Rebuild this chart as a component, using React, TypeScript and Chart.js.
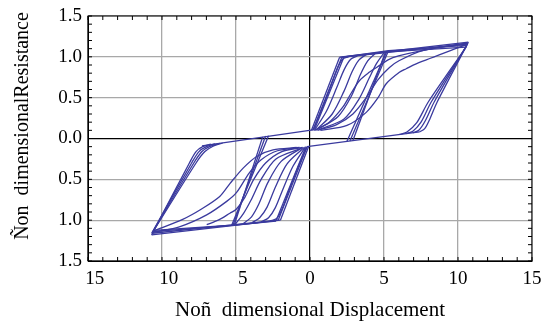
import React, { useEffect, useRef } from "react";
import { Chart, registerables } from "chart.js";

Chart.register(...registerables);

type Pt = [number, number];

// Axis ticks
const xTickValues = [-15, -10, -5, 0, 5, 10, 15];
const yTickValues = [-1.5, -1.0, -0.5, 0, 0.5, 1.0, 1.5];

const xTitle = "Noñ  dimensional Displacement";
const yTitle = "Ñon  dimensionalResistance";

// ---- positive side ----
const posElasticA: Pt[] = [[0.1, 0.1], [2.0, 0.995]];
const posElasticB: Pt[] = [[0.2, 0.1], [2.15, 0.995]];
const posElasticC: Pt[] = [[0.3, 0.11], [2.3, 1.0]];

const posYieldA: Pt[] = [[2.0, 0.995], [10.7, 1.18]];
const posYieldB: Pt[] = [[2.15, 0.995], [10.65, 1.16]];
const posYieldC: Pt[] = [[2.3, 1.0], [5.3, 1.075], [10.6, 1.14]];
const posYieldD: Pt[] = [[3.5, 1.02], [5.2, 1.06], [10.55, 1.12]];

const posUnload5A: Pt[] = [[5.3, 1.075], [2.7, -0.03]];
const posUnload5B: Pt[] = [[5.2, 1.07], [2.5, -0.035]];
const posUnload5C: Pt[] = [[5.1, 1.06], [2.9, -0.025]];

const posUnload10A: Pt[] = [[10.7, 1.18], [8.6, 0.45], [8.1, 0.24], [7.75, 0.12], [7.4, 0.08]];
const posUnload10B: Pt[] = [[10.65, 1.16], [8.4, 0.45], [7.8, 0.22], [7.35, 0.1], [6.95, 0.07]];
const posUnload10C: Pt[] = [[10.6, 1.14], [8.2, 0.45], [7.5, 0.2], [6.95, 0.09], [6.5, 0.06]];
const posUnload10D: Pt[] = [[10.55, 1.12], [8.0, 0.45], [7.2, 0.19], [6.55, 0.08], [6.05, 0.05]];

const posSlip: Pt[] = [[7.4, 0.08], [-0.2, -0.1]];

const posReload1: Pt[] = [[0.2, 0.1], [0.8, 0.36], [1.4, 0.64], [1.85, 0.86], [2.2, 0.97], [2.6, 1.0]];
const posReload2: Pt[] = [[0.3, 0.1], [1.1, 0.33], [1.8, 0.62], [2.3, 0.84], [2.75, 0.97], [3.2, 1.01]];
const posReload3: Pt[] = [[0.4, 0.1], [1.5, 0.3], [2.3, 0.58], [2.85, 0.82], [3.3, 0.96], [3.8, 1.03]];
const posReload4: Pt[] = [[0.5, 0.11], [1.9, 0.27], [2.8, 0.52], [3.4, 0.78], [3.9, 0.95], [4.4, 1.04]];
const posReload5: Pt[] = [[0.6, 0.11], [2.3, 0.24], [3.3, 0.48], [4.0, 0.74], [4.5, 0.92], [5.0, 1.05]];
const posReload6: Pt[] = [[0.3, 0.1], [1.3, 0.2], [2.2, 0.38], [2.8, 0.56], [3.35, 0.71], [4.0, 0.81], [4.5, 0.87], [5.6, 0.99], [8.3, 1.1], [10.65, 1.17]];
const posReload7: Pt[] = [[0.5, 0.1], [1.8, 0.17], [2.9, 0.3], [3.8, 0.5], [4.6, 0.72], [5.37, 0.87], [6.04, 0.955], [7.6, 1.077], [10.6, 1.16]];
const posReload8: Pt[] = [[0.7, 0.1], [2.5, 0.16], [3.8, 0.32], [4.6, 0.5], [5.15, 0.67], [6.04, 0.81], [6.5, 0.854], [7.17, 0.915], [10.55, 1.15]];

// ---- negative side ----
const negElasticA: Pt[] = [[-0.1, -0.1], [-2.0, -1.0]];
const negElasticB: Pt[] = [[-0.2, -0.1], [-2.15, -1.0]];
const negElasticC: Pt[] = [[-0.3, -0.11], [-2.3, -1.01]];

const negYieldA: Pt[] = [[-2.0, -1.0], [-10.7, -1.18]];
const negYieldB: Pt[] = [[-2.15, -1.0], [-10.65, -1.16]];
const negYieldC: Pt[] = [[-2.3, -1.01], [-5.3, -1.065], [-10.6, -1.14]];
const negYieldD: Pt[] = [[-3.5, -1.03], [-5.2, -1.06], [-10.55, -1.125]];

const negUnload5A: Pt[] = [[-5.3, -1.065], [-2.8, 0.035]];
const negUnload5B: Pt[] = [[-5.2, -1.06], [-3.0, 0.03]];
const negUnload5C: Pt[] = [[-5.1, -1.05], [-3.2, 0.02]];

const negUnload10A: Pt[] = [[-10.7, -1.18], [-8.15, -0.3], [-7.7, -0.16], [-7.25, -0.1], [-6.7, -0.07]];
const negUnload10B: Pt[] = [[-10.7, -1.16], [-8.0, -0.3], [-7.5, -0.16], [-7.0, -0.1], [-6.4, -0.065]];
const negUnload10C: Pt[] = [[-10.65, -1.15], [-7.85, -0.3], [-7.3, -0.16], [-6.8, -0.1], [-6.1, -0.06]];
const negUnload10D: Pt[] = [[-10.6, -1.14], [-7.7, -0.3], [-7.1, -0.16], [-6.55, -0.095], [-5.9, -0.055]];

const negSlip: Pt[] = [[-7.3, -0.09], [0.2, 0.105]];

const negReload1: Pt[] = [[-0.2, -0.1], [-0.85, -0.37], [-1.45, -0.65], [-1.9, -0.87], [-2.25, -0.98], [-2.7, -1.01]];
const negReload2: Pt[] = [[-0.3, -0.1], [-1.15, -0.34], [-1.85, -0.63], [-2.35, -0.85], [-2.8, -0.97], [-3.3, -1.02]];
const negReload3: Pt[] = [[-0.4, -0.11], [-1.55, -0.31], [-2.35, -0.6], [-2.9, -0.84], [-3.4, -0.97], [-3.9, -1.03]];
const negReload4: Pt[] = [[-0.5, -0.11], [-1.95, -0.28], [-2.85, -0.54], [-3.45, -0.8], [-3.95, -0.96], [-4.5, -1.04]];
const negReload5: Pt[] = [[-0.6, -0.12], [-2.3, -0.25], [-3.3, -0.5], [-4.0, -0.76], [-4.5, -0.92], [-5.05, -1.05]];
const negReload6: Pt[] = [[-0.5, -0.11], [-1.9, -0.16], [-3.0, -0.3], [-3.8, -0.5], [-4.4, -0.72], [-5.0, -0.87], [-5.41, -0.915], [-6.2, -1.0], [-6.98, -1.055]];
const negReload7: Pt[] = [[-0.7, -0.11], [-2.2, -0.15], [-3.3, -0.26], [-4.1, -0.42], [-4.96, -0.66], [-5.63, -0.77], [-6.98, -0.935], [-8.78, -1.078], [-10.6, -1.15]];
const negReload8: Pt[] = [[-0.9, -0.11], [-2.5, -0.14], [-3.6, -0.22], [-4.5, -0.36], [-5.4, -0.55], [-6.1, -0.71], [-7.3, -0.86], [-8.6, -0.99], [-10.55, -1.13]];

const straightBranches: Pt[][] = [
  posElasticA, posElasticB, posElasticC,
  posYieldA, posYieldB, posYieldC, posYieldD,
  posUnload5A, posUnload5B, posUnload5C, posSlip,
  negElasticA, negElasticB, negElasticC,
  negYieldA, negYieldB, negYieldC, negYieldD,
  negUnload5A, negUnload5B, negUnload5C, negSlip,
];

const curvedBranches: Pt[][] = [
  posUnload10A, posUnload10B, posUnload10C, posUnload10D,
  posReload1, posReload2, posReload3, posReload4, posReload5, posReload6, posReload7, posReload8,
  negUnload10A, negUnload10B, negUnload10C, negUnload10D,
  negReload1, negReload2, negReload3, negReload4, negReload5, negReload6, negReload7, negReload8,
];

const LINE = "rgb(58,58,158)";
const FONT = "'Liberation Serif', 'Times New Roman', serif";

const framePlugin = {
  id: "frameTicks",
  afterDraw(chart: any) {
    const { ctx, chartArea: a, scales } = chart;
    ctx.save();
    ctx.strokeStyle = "#000";
    ctx.lineWidth = 1;
    ctx.strokeRect(a.left, a.top, a.right - a.left, a.bottom - a.top);
    ctx.beginPath();
    for (let i = -15; i <= 15; i++) {
      const px = scales.x.getPixelForValue(i);
      ctx.moveTo(px, a.bottom);
      ctx.lineTo(px, a.bottom - 4);
      ctx.moveTo(px, a.top);
      ctx.lineTo(px, a.top + 4);
    }
    for (let j = -15; j <= 15; j++) {
      const py = scales.y.getPixelForValue(j / 10);
      ctx.moveTo(a.left, py);
      ctx.lineTo(a.left + 4, py);
      ctx.moveTo(a.right, py);
      ctx.lineTo(a.right - 4, py);
    }
    ctx.stroke();
    ctx.restore();
  },
};

export default function App() {
  const ref = useRef<HTMLCanvasElement | null>(null);

  useEffect(() => {
    if (!ref.current) return;
    const toData = (arr: Pt[]) => arr.map(([x, y]) => ({ x, y }));
    const datasets: any[] = [
      ...straightBranches.map((b) => ({
        data: toData(b),
        showLine: true,
        borderColor: LINE,
        borderWidth: 1.3,
        pointRadius: 0,
        tension: 0,
        fill: false,
      })),
      ...curvedBranches.map((b) => ({
        data: toData(b),
        showLine: true,
        borderColor: LINE,
        borderWidth: 1.3,
        pointRadius: 0,
        tension: 0.3,
        fill: false,
      })),
    ];

    const chart = new Chart(ref.current, {
      type: "scatter",
      data: { datasets },
      plugins: [framePlugin],
      options: {
        animation: false,
        responsive: false,
        maintainAspectRatio: false,
        layout: { padding: { top: 16, right: 12, left: 0, bottom: 0 } },
        plugins: { legend: { display: false }, tooltip: { enabled: false } },
        scales: {
          x: {
            type: "linear",
            min: -15,
            max: 15,
            afterFit: (s: any) => { s.height = 63; s.paddingLeft = 0; s.paddingRight = 0; },
            afterBuildTicks: (s: any) => { s.ticks = xTickValues.map((v) => ({ value: v })); },
            ticks: {
              color: "#000",
              padding: 7,
              maxRotation: 0,
              font: { family: FONT, size: 19 },
              callback: (v: any) => (v < 0 ? "\u2002\u2009" + String(-v) : String(v)),
            },
            grid: {
              drawTicks: false,
              color: (c: any) => (c.tick && c.tick.value === 0 ? "#000" : "#a8a8a8"),
              lineWidth: (c: any) => (c.tick && c.tick.value === 0 ? 1.2 : 1.3),
            },
            border: { display: true, color: "#000", width: 1 },
            title: {
              display: true,
              text: xTitle,
              color: "#000",
              font: { family: FONT, size: 21 },
              padding: { top: 0, bottom: 1 },
            },
          },
          y: {
            type: "linear",
            min: -1.5,
            max: 1.5,
            afterFit: (s: any) => { s.width = 88; s.paddingTop = 0; s.paddingBottom = 0; },
            afterBuildTicks: (s: any) => { s.ticks = yTickValues.map((v) => ({ value: v })); },
            ticks: {
              color: "#000",
              padding: 6,
              font: { family: FONT, size: 19 },
              callback: (v: any) => Math.abs(Number(v)).toFixed(1),
            },
            grid: {
              drawTicks: false,
              color: (c: any) => (c.tick && c.tick.value === 0 ? "#000" : "#a8a8a8"),
              lineWidth: (c: any) => (c.tick && c.tick.value === 0 ? 1.2 : 1.3),
            },
            border: { display: true, color: "#000", width: 1 },
            title: {
              display: true,
              text: "\u2003 " + yTitle,
              color: "#000",
              font: { family: FONT, size: 20 },
              padding: { top: 11, bottom: 0 },
            },
          },
        },
      },
    });
    return () => chart.destroy();
  }, []);

  return (
    <div style={{ position: "absolute", left: 0, top: 0, width: 544, height: 324, background: "#fff" }}>
      <canvas ref={ref} width={544} height={324} style={{ display: "block" }} />
    </div>
  );
}
